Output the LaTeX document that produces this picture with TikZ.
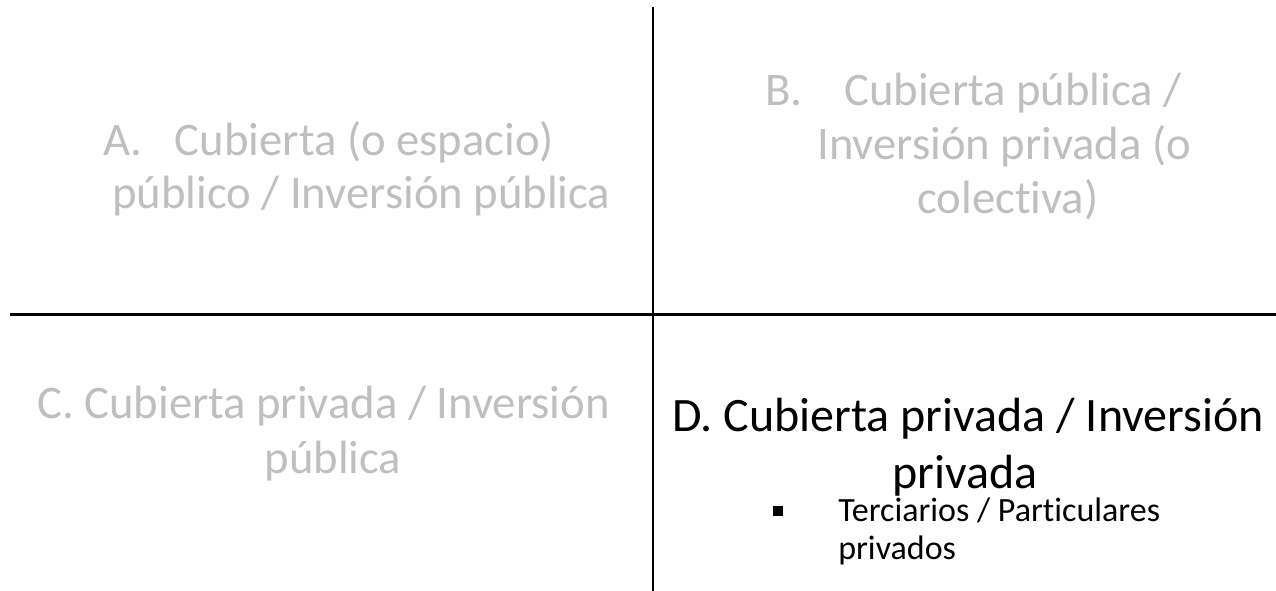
\documentclass[tikz,border=0pt]{standalone}
\usepackage{fontspec}
\setmainfont{Carlito}[Ligatures=NoCommon]
\definecolor{faded}{HTML}{BFBFBF}
\begin{document}
\begin{tikzpicture}[x=0.75pt,y=-0.75pt,
  grey/.style={text=faded,font=\fontsize{35}{42}\selectfont,inner sep=0pt},
  dark/.style={text=black,font=\fontsize{36}{43}\selectfont,inner sep=0pt},
  small/.style={text=black,font=\fontsize{25.5}{30}\selectfont,inner sep=0pt}]
\useasboundingbox (0,0) rectangle (1276,591);

% axes
\coordinate (top) at (653,7);
\coordinate (bottom) at (653,591);
\coordinate (left) at (10,314);
\coordinate (right) at (1276,314);
\draw[line width=1.5pt] (top) -- (bottom);
\draw[line width=2.25pt] (left) -- (right);

% quadrant A
\node[grey,anchor=mid west] (A1) at (103,152) {A.\hspace{0.7em}Cubierta (o espacio)};
\node[grey,anchor=mid west] (A2) at (112,205) {público / Inversión pública};

% quadrant B
\node[grey,anchor=mid west] (B1) at (765,102) {B.\hspace{0.9em}Cubierta pública /};
\node[grey,anchor=mid west] (B2) at (817,156) {Inversión privada (o};
\node[grey,anchor=mid] (B3) at (1008,210) {colectiva)};

% quadrant C
\node[grey,anchor=mid west] (C1) at (37,415) {C. Cubierta privada / Inversión};
\node[grey,anchor=mid] (C2) at (333,470) {pública};

% quadrant D
\node[dark,anchor=mid west] (D1) at (672,428) {D. Cubierta privada / Inversión};
\node[dark,anchor=mid] (D2) at (965,485) {privada};
\node[fill=black,minimum size=7.5pt,inner sep=0pt] (dot) at (778,511) {};
\node[small,anchor=mid west] (D3) at (838,518) {Terciarios / Particulares};
\node[small,anchor=mid west] (D4) at (838,556) {privados};
\end{tikzpicture}
\end{document}
